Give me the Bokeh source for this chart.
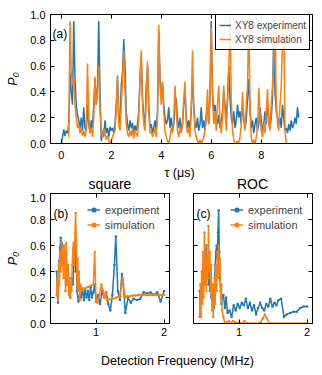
from bokeh.plotting import figure
from bokeh.models import (Range1d, LinearAxis, FixedTicker, Legend, LegendItem,
                          Label, PrintfTickFormatter)
from bokeh.layouts import column, row
from bokeh.embed import file_html
from bokeh.resources import INLINE

FONT = "Liberation Sans"
BLUE = "#1f77b4"
ORANGE = "#ff7f0e"

# ---------------- data: panel (a) ----------------
tau_exp_start, tau_exp_step = 0.00, 0.05
exp_xy8 = [
    0.00, 0.05, 0.11, 0.06, 0.10, 0.08, 0.15, 0.55, 0.40, 0.30,
    0.95, 0.50, 0.30, 0.22, 0.18, 0.12, 0.20, 0.10, 0.28, 0.12,
    0.10, 0.30, 0.15, 0.08, 0.18, 0.12, 0.30, 0.50, 0.30, 0.45,
    0.95, 0.40, 0.02, 0.10, 0.05, 0.18, 0.08, 0.12, 0.05, 0.13,
    0.10, 0.12, 0.08, 0.15, 0.30, 0.52, 0.20, 0.15, 0.45, 0.55,
    0.81, 0.60, 0.25, 0.15, 0.10, 0.18, 0.12, 0.16, 0.08, 0.14,
    0.10, 0.15, 0.25, 0.50, 0.68, 0.35, 0.20, 0.15, 0.45, 0.60,
    0.30, 0.12, 0.15, 0.08, 0.12, 0.18, 0.10, 0.25, 0.88, 0.50,
    0.35, 0.47, 0.30, 0.20, 0.15, 0.18, 0.28, 0.12, 0.20, 0.10,
    0.15, 0.30, 0.35, 0.18, 0.12, 0.20, 0.10, 0.15, 0.30, 0.40,
    0.20, 0.12, 0.18, 0.10, 0.25, 0.50, 0.30, 0.15, 0.12, 0.20,
    0.10, 0.15, 0.28, 0.12, 0.18, 0.10, 0.22, 0.30, 0.15, 0.35,
    0.95, 0.40, 0.25, 0.30, 0.20, 0.15, 0.22, 0.12, 0.18, 0.25,
    0.40, 0.30, 0.20, 0.35, 0.60, 0.35, 0.20, 0.15, 0.25, 0.12,
    0.18, 0.30, 0.20, 0.25, 0.15, 0.30, 0.20, 0.12, 0.18, 0.35,
    0.50, 0.25, 0.12, 0.18, 0.08, 0.15, 0.20, 0.10, 0.15, 0.28,
    0.18, 0.10, 0.15, 0.25, 0.15, 0.30, 0.20, 0.12, 0.20, 0.35,
    0.85, 0.40, 0.25, 0.20, 0.15, 0.20, 0.12, 0.30, 0.20, 0.10,
    0.12, 0.08, 0.15, 0.10, 0.18, 0.12, 0.15, 0.20, 0.15, 0.28,
    0.20,
]
tau_sim_start, tau_sim_step = 0.30, 0.05
sim_xy8 = [
    0.05, 0.95, 0.55, 0.45, 0.52, 0.30, 0.20, 0.12, 0.15, 0.08,
    0.12, 0.06, 0.10, 0.05, 0.12, 0.62, 0.20, 0.08, 0.12, 0.05,
    0.20, 0.52, 0.30, 0.40, 0.60, 0.25, 0.10, 0.05, 0.12, 0.08,
    0.03, 0.06, 0.02, 0.00, 0.02, 0.05, 0.08, 0.10, 0.25, 0.53,
    0.15, 0.10, 0.30, 0.48, 0.72, 0.40, 0.15, 0.08, 0.05, 0.10,
    0.06, 0.12, 0.04, 0.10, 0.08, 0.05, 0.20, 0.50, 0.72, 0.30,
    0.15, 0.10, 0.35, 0.64, 0.25, 0.08, 0.10, 0.05, 0.08, 0.12,
    0.05, 0.20, 0.92, 0.45, 0.30, 0.48, 0.25, 0.10, 0.05, 0.02,
    0.00, 0.05, 0.12, 0.08, 0.20, 0.45, 0.25, 0.10, 0.05, 0.12,
    0.08, 0.15, 0.35, 0.48, 0.15, 0.08, 0.12, 0.05, 0.30, 0.72,
    0.25, 0.10, 0.05, 0.02, 0.00, 0.03, 0.00, 0.02, 0.05, 0.10,
    0.20, 0.42, 0.15, 0.40, 0.90, 0.35, 0.15, 0.25, 0.10, 0.30,
    0.45, 0.15, 0.08, 0.20, 0.45, 0.25, 0.10, 0.30, 0.55, 1.00,
    0.35, 0.10, 0.03, 0.00, 0.00, 0.02, 0.00, 0.05, 0.15, 0.40,
    0.20, 0.10, 0.30, 0.45, 1.00, 0.30, 0.05, 0.00, 0.03, 0.00,
    0.05, 0.12, 0.43, 0.20, 0.10, 0.05, 0.15, 0.08, 0.25, 0.42,
    0.15, 0.10, 0.30, 0.45, 0.60, 1.00, 0.35, 0.15, 0.10, 0.30,
    0.45, 0.80, 1.00, 0.10, 0.00,
]
tau_exp = [round(tau_exp_start + i * tau_exp_step, 2) for i in range(len(exp_xy8))]
tau_sim = [round(tau_sim_start + i * tau_sim_step, 2) for i in range(len(sim_xy8))]

# ---------------- data: panel (b) square ----------------
sq_exp_f = [0.42, 0.43, 0.44, 0.45, 0.46, 0.47, 0.48, 0.49, 0.50, 0.51, 0.52, 0.53, 0.54,
            0.55, 0.56, 0.57, 0.58, 0.60, 0.62, 0.64, 0.66, 0.68, 0.69, 0.70, 0.71, 0.72,
            0.74, 0.76, 0.78, 0.80, 0.82, 0.84, 0.86, 0.88, 0.90, 0.92, 0.94, 0.96, 0.98,
            1.00, 1.03, 1.06, 1.09, 1.12, 1.15, 1.18, 1.21, 1.24, 1.27, 1.29, 1.32, 1.35,
            1.38, 1.40, 1.43, 1.47, 1.51, 1.55, 1.60, 1.65, 1.70, 1.75, 1.80, 1.85, 1.90,
            1.95, 2.00]
sq_exp_p = [0.40, 0.22, 0.16, 0.35, 0.48, 0.58, 0.66, 0.55, 0.62, 0.45, 0.58, 0.40, 0.52,
            0.35, 0.48, 0.30, 0.42, 0.25, 0.20, 0.35, 0.30, 0.55, 0.62, 0.40, 0.50, 0.25,
            0.17, 0.22, 0.20, 0.27, 0.18, 0.26, 0.20, 0.25, 0.18, 0.28, 0.20, 0.24, 0.30,
            0.17, 0.22, 0.15, 0.25, 0.20, 0.24, 0.15, 0.10, 0.22, 0.45, 0.67, 0.25, 0.18,
            0.38, 0.30, 0.08, 0.20, 0.16, 0.19, 0.18, 0.19, 0.24, 0.23, 0.24, 0.22, 0.24,
            0.17, 0.25]
sq_sim_f = [0.42, 0.43, 0.44, 0.45, 0.46, 0.47, 0.48, 0.49, 0.50, 0.51, 0.52, 0.53, 0.54,
            0.55, 0.56, 0.57, 0.58, 0.59, 0.60, 0.61, 0.62, 0.63, 0.64, 0.65, 0.66, 0.67,
            0.68, 0.69, 0.70, 0.71, 0.72, 0.73, 0.74, 0.75, 0.76, 0.77, 0.78, 0.80, 0.84,
            0.88, 0.92, 0.96, 0.98, 1.00, 1.02, 1.05, 1.08, 1.10, 1.12, 1.14, 1.16, 1.20,
            1.25, 1.30, 1.35, 1.37, 1.39, 1.41, 1.43, 1.46, 1.50, 1.54, 1.58, 1.62, 1.66,
            1.70, 1.74, 1.78, 1.82, 1.86, 1.90, 1.94, 1.98, 2.00]
sq_sim_p = [0.22, 0.35, 0.18, 0.45, 0.30, 0.55, 0.40, 0.62, 0.45, 0.58, 0.35, 0.60, 0.50,
            0.25, 0.62, 0.40, 0.30, 0.45, 0.22, 0.35, 0.20, 0.30, 0.25, 0.45, 0.58, 0.62,
            0.45, 0.70, 0.85, 0.60, 0.30, 0.50, 0.25, 0.40, 0.18, 0.30, 0.25, 0.27, 0.27,
            0.28, 0.29, 0.30, 0.55, 0.17, 0.16, 0.22, 0.30, 0.25, 0.20, 0.24, 0.18, 0.185,
            0.19, 0.20, 0.21, 0.28, 0.35, 0.25, 0.20, 0.21, 0.21, 0.215, 0.215, 0.22, 0.22,
            0.22, 0.22, 0.22, 0.22, 0.22, 0.22, 0.22, 0.22, 0.22]

# ---------------- data: panel (c) ROC ----------------
roc_exp_f = [0.42, 0.43, 0.44, 0.45, 0.46, 0.47, 0.48, 0.49, 0.50, 0.51, 0.52, 0.53, 0.54,
             0.55, 0.56, 0.57, 0.58, 0.59, 0.60, 0.61, 0.62, 0.63, 0.64, 0.65, 0.66, 0.67,
             0.68, 0.69, 0.70, 0.71, 0.72, 0.73, 0.74, 0.75, 0.77, 0.79, 0.81, 0.83, 0.86,
             0.89, 0.92, 0.95, 0.98, 1.01, 1.04, 1.07, 1.10, 1.13, 1.16, 1.19, 1.22, 1.25,
             1.28, 1.31, 1.34, 1.37, 1.40, 1.43, 1.46, 1.49, 1.52, 1.55, 1.58, 1.62, 1.66,
             1.70, 1.75, 1.80, 1.85, 1.90, 1.95, 2.00]
roc_exp_p = [0.25, 0.12, 0.30, 0.20, 0.40, 0.28, 0.50, 0.35, 0.55, 0.45, 0.60, 0.40, 0.50,
             0.30, 0.45, 0.25, 0.40, 0.20, 0.30, 0.15, 0.25, 0.12, 0.30, 0.45, 0.55, 0.60,
             0.50, 0.70, 0.87, 0.55, 0.35, 0.25, 0.15, 0.20, 0.22, 0.12, 0.20, 0.08, 0.10,
             0.05, 0.14, 0.10, 0.15, 0.12, 0.16, 0.14, 0.19, 0.12, 0.16, 0.10, 0.14, 0.07,
             0.12, 0.16, 0.12, 0.10, 0.15, 0.13, 0.19, 0.13, 0.16, 0.14, 0.18, 0.19, 0.05,
             0.07, 0.08, 0.09, 0.09, 0.12, 0.13, 0.13]
roc_sim_f = [0.42, 0.43, 0.44, 0.45, 0.46, 0.47, 0.48, 0.49, 0.50, 0.51, 0.52, 0.53, 0.54,
             0.55, 0.56, 0.57, 0.58, 0.59, 0.60, 0.61, 0.62, 0.63, 0.64, 0.65, 0.66, 0.67,
             0.68, 0.69, 0.70, 0.71, 0.72, 0.73, 0.74, 0.75, 0.77, 0.79, 0.82, 0.85, 0.88,
             0.91, 0.94, 0.97, 1.00, 1.04, 1.08, 1.12, 1.16, 1.20, 1.24, 1.28, 1.32, 1.35,
             1.38, 1.41, 1.44, 1.48, 1.52, 1.56, 1.60, 1.64, 1.68, 1.72, 1.76, 1.80, 1.84,
             1.88, 1.92, 1.96, 2.00]
roc_sim_p = [0.05, 0.30, 0.05, 0.40, 0.15, 0.55, 0.20, 0.70, 0.30, 0.60, 0.25, 0.50, 0.35,
             0.75, 0.40, 0.55, 0.25, 0.45, 0.10, 0.30, 0.05, 0.20, 0.35, 0.15, 0.45, 0.25,
             0.55, 0.35, 0.60, 0.40, 0.50, 0.20, 0.30, 0.10, 0.05, 0.00, 0.01, 0.02, 0.00,
             0.02, 0.01, 0.00, 0.01, 0.00, 0.02, 0.00, 0.00, 0.00, 0.00, 0.00, 0.01, 0.04,
             0.07, 0.04, 0.00, 0.00, 0.00, 0.00, 0.00, 0.00, 0.00, 0.00, 0.00, 0.00, 0.00,
             0.00, 0.00, 0.00, 0.00]

tau_ticks = [0, 2, 4, 6, 8]
freq_ticks = [1, 2]
p_ticks = [0.0, 0.2, 0.4, 0.6, 0.8, 1.0]


def style_axis(ax, ticks, show_labels, fmt=None, standoff=4):
    ax.ticker = FixedTicker(ticks=ticks)
    ax.minor_tick_line_color = None
    ax.major_tick_in = 4
    ax.major_tick_out = 0
    ax.axis_line_color = "black"
    ax.major_tick_line_color = "black"
    ax.major_label_text_font = FONT
    ax.axis_label_text_font = FONT
    ax.axis_label_text_color = "black"
    ax.axis_label_text_font_style = "normal"
    ax.axis_label_text_font_size = "12.5px"
    if fmt is not None:
        ax.formatter = fmt
    if show_labels:
        ax.major_label_text_color = "black"
        ax.major_label_text_font_size = "11px"
        ax.major_label_standoff = standoff
    else:
        ax.major_label_text_color = None
        ax.major_label_text_font_size = "0px"
        ax.major_label_standoff = 0


def make_fig(width, height, xr, yr, bl, br, bt, bb, xticks, show_x, show_y, xstand):
    p = figure(width=width, height=height, x_range=Range1d(*xr), y_range=Range1d(*yr),
               toolbar_location=None, output_backend="svg",
               x_axis_location=None, y_axis_location=None,
               min_border_left=bl, min_border_right=br, min_border_top=bt,
               min_border_bottom=bb)
    p.xgrid.visible = False
    p.ygrid.visible = False
    p.outline_line_color = "black"
    p.outline_line_alpha = 1.0
    p.background_fill_color = "white"
    p.border_fill_color = "white"
    bottom = LinearAxis()
    style_axis(bottom, xticks, show_x, standoff=xstand)
    p.add_layout(bottom, "below")
    left = LinearAxis()
    style_axis(left, p_ticks, show_y, PrintfTickFormatter(format="%.1f"), standoff=5)
    p.add_layout(left, "left")
    right = LinearAxis()
    style_axis(right, p_ticks, False)
    p.add_layout(right, "right")
    top = LinearAxis()
    style_axis(top, xticks, False)
    p.add_layout(top, "above")
    return p, bottom, left


def add_text(p, txt, x, y, size="12px", align="left", units="screen"):
    p.add_layout(Label(x=x, y=y, x_units=units, y_units=units, text=txt,
                       text_font=FONT, text_font_size=size, text_color="black",
                       text_align=align, text_baseline="middle"))


def text_strip(height):
    # frame spans page x 50..312 like the panels; data x == page pixel x,
    # data y == pixels up from the strip's bottom edge
    s = figure(width=314, height=height, x_range=Range1d(50, 312),
               y_range=Range1d(0, height),
               toolbar_location=None, output_backend="svg",
               min_border_left=50, min_border_right=2, min_border_top=0,
               min_border_bottom=0,
               x_axis_location=None, y_axis_location=None)
    s.xgrid.visible = False
    s.ygrid.visible = False
    s.outline_line_color = None
    s.border_fill_color = "white"
    s.background_fill_color = "white"
    return s


# ---------------- panel (a) ----------------
pa, ax_b, ax_l = make_fig(314, 164, (-0.43, 10.05), (0, 1), 50, 2, 14, 21,
                          tau_ticks, True, True, 7)
ax_l.axis_label = "P₀"
ax_l.axis_label_text_font_style = "italic"
ax_l.axis_label_standoff = 7
ra = pa.line(tau_exp, exp_xy8, line_color=BLUE, line_width=1.5)
rb = pa.line(tau_sim, sim_xy8, line_color=ORANGE, line_width=1.5)
leg_a = Legend(items=[LegendItem(label="XY8 experiment", renderers=[ra]),
                      LegendItem(label="XY8 simulation", renderers=[rb])],
               location=(165, 93), padding=3, margin=0, spacing=0,
               glyph_width=12, glyph_height=14, label_height=14, label_standoff=4,
               label_text_font=FONT, label_text_font_size="10px",
               border_line_color="black", border_line_width=1, border_line_alpha=1,
               background_fill_color="white", background_fill_alpha=0.85)
pa.add_layout(leg_a, "center")
add_text(pa, "(a)", 2, 110)

# strip holding the x label of (a) and the titles of (b), (c)
mid = text_strip(29)
add_text(mid, "τ (μs)", 179, 21, size="12.5px", align="center", units="data")
add_text(mid, "square", 109.5, 10, size="14px", align="center", units="data")
add_text(mid, "ROC", 252, 10, size="14px", align="center", units="data")


# ---------------- panel (b) & (c) ----------------
def bottom_panel(width, bl, br, exp_f, exp_p, sim_f, sim_p, tag, show_y):
    p, axb, axl = make_fig(width, 149, (0.33, 2.08), (0, 1), bl, br, 0, 19,
                           freq_ticks, True, show_y, 4)
    if show_y:
        axl.axis_label = "P₀"
        axl.axis_label_text_font_style = "italic"
        axl.axis_label_standoff = 7
    l1 = p.line(exp_f, exp_p, line_color=BLUE, line_width=1.5)
    s1 = p.scatter(exp_f, exp_p, size=2.5, fill_color=BLUE, line_color=None)
    l2 = p.line(sim_f, sim_p, line_color=ORANGE, line_width=1.5)
    s2 = p.scatter(sim_f, sim_p, size=2.5, fill_color=ORANGE, line_color=None)
    leg = Legend(items=[LegendItem(label="experiment", renderers=[l1, s1]),
                        LegendItem(label="simulation", renderers=[l2, s2])],
                 location=(37, 91), padding=0, margin=0, spacing=0,
                 glyph_width=13, glyph_height=15, label_height=15, label_standoff=5,
                 label_text_font=FONT, label_text_font_size="11px",
                 border_line_color=None, background_fill_alpha=0)
    p.add_layout(leg, "center")
    add_text(p, tag, 3, 110)
    return p


pb = bottom_panel(181, 50, 12, sq_exp_f, sq_exp_p, sq_sim_f, sq_sim_p, "(b)", True)
pc = bottom_panel(133, 12, 2, roc_exp_f, roc_exp_p, roc_sim_f, roc_sim_p, "(c)", False)

# shared x label of (b), (c)
pl = text_strip(26)
add_text(pl, "Detection Frequency (MHz)", 177, 8, size="12.5px", align="center", units="data")

layout = column(pa, mid, row(pb, pc), pl)
open("out.html", "w").write(file_html(layout, INLINE))
